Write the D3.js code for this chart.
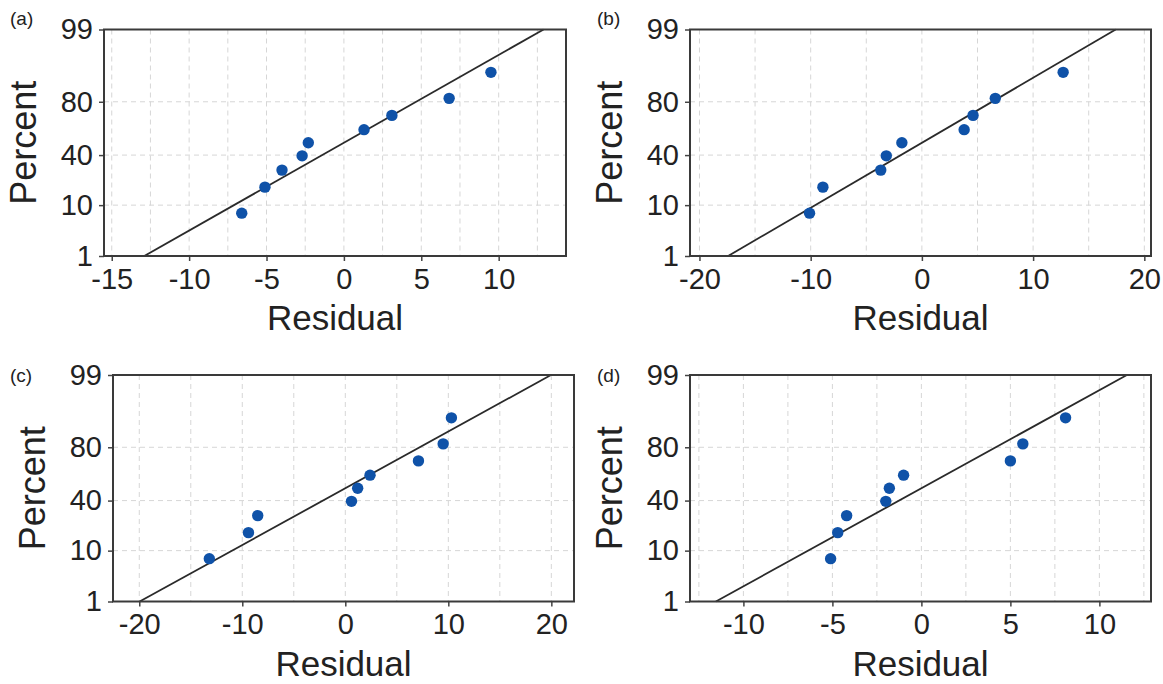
<!DOCTYPE html>
<html>
<head>
<meta charset="utf-8">
<script src="https://cdn.jsdelivr.net/npm/d3@7"></script>
<style>
  body { margin: 0; background: #fff; }
  svg text { font-family: "Liberation Sans", Arial, sans-serif; fill: #222; }
</style>
</head>
<body>
<svg id="chart" width="1163" height="684"></svg>
<script>
// residuals (sorted)
const residA = [-6.6, -5.1, -4.0, -2.7, -2.3, 1.3, 3.1, 6.8, 9.5];
const residB = [-10.1, -8.9, -3.7, -3.2, -1.8, 3.8, 4.6, 6.6, 12.7];
const residC = [-13.2, -9.4, -8.5, 0.6, 1.2, 2.4, 7.1, 9.5, 10.3];
const residD = [-5.1, -4.7, -4.2, -2.0, -1.8, -1.0, 5.0, 5.7, 8.1];

// plotting positions (percent) for n = 9
const percents = [7.4, 18.1, 28.7, 39.4, 50.0, 60.6, 71.3, 81.9, 92.6];

const yTicks = [1, 10, 40, 80, 99];
const yGrid = [10, 40, 80];

const xTicksA = [-15, -10, -5, 0, 5, 10];
const xTicksB = [-20, -10, 0, 10, 20];
const xTicksC = [-20, -10, 0, 10, 20];
const xTicksD = [-10, -5, 0, 5, 10];

const xDomA = [-15.5, 14.35];
const xDomB = [-20.85, 20.6];
const xDomC = [-22.55, 22.2];
const xDomD = [-13.0, 12.9];

const labels = ["(a)", "(b)", "(c)", "(d)"];

const panels = [
    { data: residA, ticks: xTicksA, dom: xDomA, grid: 2.5, left: 104, right: 566, top: 29.5, bottom: 256, lx: 10, ly: 25 },
    { data: residB, ticks: xTicksB, dom: xDomB, grid: 5, left: 690, right: 1151, top: 29.5, bottom: 256, lx: 597, ly: 25 },
    { data: residC, ticks: xTicksC, dom: xDomC, grid: 5, left: 113, right: 574, top: 375, bottom: 601.5, lx: 10, ly: 382 },
    { data: residD, ticks: xTicksD, dom: xDomD, grid: 2.5, left: 690, right: 1151, top: 375, bottom: 601.5, lx: 597, ly: 382 }
];

// inverse normal cdf (Acklam)
function probit(p) {
    const a = [-39.69683028665376, 220.9460984245205, -275.9285104469687, 138.3577518672690, -30.66479806614716, 2.506628277459239];
    const b = [-54.47609879822406, 161.5858368580409, -155.6989798598866, 66.80131188771972, -13.28068155288572];
    const c = [-0.007784894002430293, -0.3223964580411365, -2.400758277161838, -2.549732539343734, 4.374664141464968, 2.938163982698783];
    const d = [0.007784695709041462, 0.3224671290700398, 2.445134137142996, 3.754408661907416];
    const pl = 0.02425;
    let q, r;
    if (p < pl) {
        q = Math.sqrt(-2 * Math.log(p));
        return (((((c[0]*q+c[1])*q+c[2])*q+c[3])*q+c[4])*q+c[5]) / ((((d[0]*q+d[1])*q+d[2])*q+d[3])*q+1);
    }
    if (p > 1 - pl) {
        q = Math.sqrt(-2 * Math.log(1 - p));
        return -(((((c[0]*q+c[1])*q+c[2])*q+c[3])*q+c[4])*q+c[5]) / ((((d[0]*q+d[1])*q+d[2])*q+d[3])*q+1);
    }
    q = p - 0.5;
    r = q * q;
    return (((((a[0]*r+a[1])*r+a[2])*r+a[3])*r+a[4])*r+a[5])*q / (((((b[0]*r+b[1])*r+b[2])*r+b[3])*r+b[4])*r+1);
}

const svg = d3.select("#chart");

panels.forEach((p, k) => drawPanel(p, labels[k]));

function drawPanel(p, label) {
    const g = svg.append("g");

    const x = d3.scaleLinear().domain(p.dom).range([p.left, p.right]);
    const y = d3.scaleLinear().domain([probit(0.01), probit(0.99)]).range([p.bottom, p.top]);

    // grid
    const gx = d3.range(Math.ceil(p.dom[0] / p.grid) * p.grid, p.dom[1], p.grid);
    g.selectAll(".vgrid").data(gx).enter().append("line")
        .attr("x1", d => x(d)).attr("x2", d => x(d))
        .attr("y1", p.top).attr("y2", p.bottom)
        .attr("stroke", "#d6d6d6").attr("stroke-dasharray", "5,4").attr("stroke-width", 1);
    g.selectAll(".hgrid").data(yGrid).enter().append("line")
        .attr("x1", p.left).attr("x2", p.right)
        .attr("y1", d => y(probit(d / 100))).attr("y2", d => y(probit(d / 100)))
        .attr("stroke", "#d6d6d6").attr("stroke-dasharray", "5,4").attr("stroke-width", 1);

    // axes
    const xAxis = d3.axisBottom(x).tickValues(p.ticks).tickSize(5).tickPadding(7).tickFormat(d => String(d));
    const ga = g.append("g").attr("transform", `translate(0,${p.bottom})`).call(xAxis);
    ga.select(".domain").remove();
    ga.selectAll("text").style("font-size", "29px").attr("fill", "#222");
    ga.selectAll("line").attr("stroke", "#444").attr("stroke-width", 1.5);

    const yAxis = d3.axisLeft(y).tickValues(yTicks.map(v => probit(v / 100)))
        .tickSize(5).tickPadding(6).tickFormat((d, i) => yTicks[i]);
    const gy = g.append("g").attr("transform", `translate(${p.left},0)`).call(yAxis);
    gy.select(".domain").remove();
    gy.selectAll("text").style("font-size", "29px").attr("fill", "#222");
    gy.selectAll("line").attr("stroke", "#444").attr("stroke-width", 1.5);

    // fitted normal line
    const m = d3.mean(p.data), s = d3.deviation(p.data);
    const zr = y.domain();
    g.append("line")
        .attr("x1", x(m + s * zr[0])).attr("y1", y(zr[0]))
        .attr("x2", x(m + s * zr[1])).attr("y2", y(zr[1]))
        .attr("stroke", "#2a2a2a").attr("stroke-width", 1.8);

    // points
    g.selectAll(".pt").data(p.data).enter().append("circle")
        .attr("cx", d => x(d))
        .attr("cy", (d, i) => y(probit(percents[i] / 100)))
        .attr("r", 5.7)
        .attr("fill", "#0f52a8");

    // frame
    g.append("rect")
        .attr("x", p.left).attr("y", p.top)
        .attr("width", p.right - p.left).attr("height", p.bottom - p.top)
        .attr("fill", "none").attr("stroke", "#3a3a3a").attr("stroke-width", 2);

    g.append("text")
        .attr("x", (p.left + p.right) / 2).attr("y", p.bottom + 74)
        .attr("text-anchor", "middle").style("font-size", "35px")
        .text("Residual");

    g.append("text")
        .attr("transform", `translate(${p.left - 68},${(p.top + p.bottom) / 2}) rotate(-90)`)
        .attr("text-anchor", "middle").style("font-size", "36px")
        .text("Percent");

    g.append("text")
        .attr("x", p.lx).attr("y", p.ly)
        .style("font-size", "19px")
        .text(label);
}
</script>
</body>
</html>
